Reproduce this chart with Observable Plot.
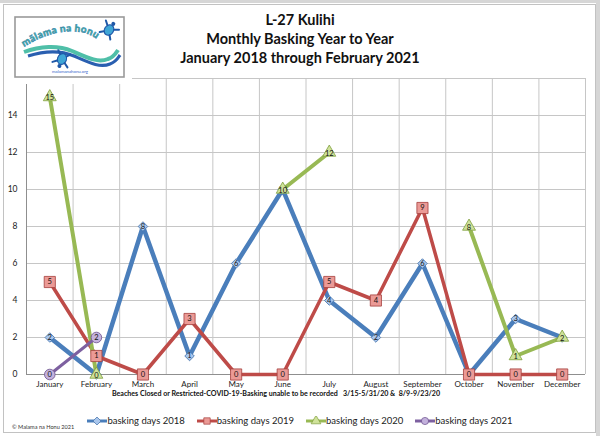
<!DOCTYPE html>
<html>
<head>
<meta charset="utf-8">
<script src="https://cdn.jsdelivr.net/npm/d3@7"></script>
<script src="https://cdn.jsdelivr.net/npm/@observablehq/plot@0.6"></script>
<style>
  html, body { margin: 0; padding: 0; background: #fff; }
  #wrap { position: relative; width: 600px; height: 436px; overflow: hidden; background: #fff; font-family: Lato, "Open Sans", sans-serif; }
  #topbar { position: absolute; left: 0; top: 0; width: 600px; height: 3px; background: #d6d6d6; }
  #rightbar { position: absolute; left: 596px; top: 0; width: 4px; height: 436px; background: #d6d6d6; }
  #frame { position: absolute; left: 3px; top: 4px; width: 593px; height: 429px; border: 1px solid #c2c2c2; box-sizing: border-box; background: #fff; }
  #chart { position: absolute; left: 0; top: 0; }
  #title { position: absolute; left: 0; top: 10px; width: 600px; text-align: center; font-weight: 700; font-size: 14.5px; line-height: 19px; color: #111; }
  #xtitle { position: absolute; left: 0; top: 389.5px; width: 552px; text-align: center; font-weight: 700; font-size: 7.1px; line-height: 8px; color: #111; white-space: pre; }
  #legend { position: absolute; left: 0; top: 414px; width: 600px; display: flex; justify-content: center; gap: 12px; font-size: 9.5px; line-height: 14px; color: #222; }
  .item { display: flex; align-items: center; }
  #copy { position: absolute; left: 12px; top: 423px; font-size: 5.6px; color: #333; }
  #logo { position: absolute; left: 10px; top: 13px; }
</style>
</head>
<body>
<div id="wrap">
  <div id="topbar"></div>
  <div id="rightbar"></div>
  <div id="frame"></div>
  <div id="chart"></div>
  <svg id="logo" width="122" height="71">
    <defs>
      <path id="arc" d="M14,34 C35,20 62,14 80,22 C90,27 96,34 100,44"/>
      <g id="turtle">
        <ellipse cx="0" cy="0" rx="4.5" ry="5.5" fill="#3fa6d6" stroke="#1f58a8" stroke-width="1.1"/>
        <circle cx="0" cy="-7.5" r="2" fill="#1f58a8"/>
        <path d="M-4,-3 L-8,-6 M4,-3 L8,-6 M-3.5,4 L-6.5,7 M3.5,4 L6.5,7" stroke="#1f58a8" stroke-width="2" stroke-linecap="round"/>
      </g>
    </defs>
    <rect x="0" y="0" width="122" height="71" fill="#fff"/>
    <rect x="5" y="4" width="109" height="60" fill="#fff" stroke="#9a9a9a" stroke-width="1.6"/>
    <path d="M14,39 C30,33 48,32 62,38 C78,45 88,50 98,46 C104,44 106,40 108,37" fill="none" stroke="#4fbfa8" stroke-width="4"/>
    <path d="M18,43 C34,38 50,37 64,43 C80,50 90,55 100,51 C106,49 108,45 110,42" fill="none" stroke="#2a5fb0" stroke-width="3.2"/>
    <text font-size="10" font-weight="900" fill="#43b49e" stroke="#2a6fb0" stroke-width="0.4" font-family="Lato" letter-spacing="0.3"><textPath href="#arc">mālama na honu</textPath></text>
    <use href="#turtle" transform="translate(99,17) rotate(35)"/>
    <use href="#turtle" transform="translate(52,46) rotate(200)"/>
    <text x="60" y="59.5" font-size="4.3" fill="#3366cc" text-anchor="middle" font-family="Lato">malamanahonu.org</text>
  </svg>
  <div id="title">L-27 Kulihi<br>Monthly Basking Year to Year<br>January 2018 through February 2021</div>
  <div id="xtitle">Beaches Closed or Restricted-COVID-19-Basking unable to be recorded   3/15-5/31/20 &amp;  8/9-9/23/20</div>
  <div id="legend"></div>
  <div id="copy">© Malama na Honu 2021</div>
</div>
<script>
// ---- data ----
const months = ["January","February","March","April","May","June","July","August","September","October","November","December"];
const seriesNames = ["basking days 2018","basking days 2019","basking days 2020","basking days 2021"];
const basking2018 = [2, 0, 8, 1, 6, 10, 4, 2, 6, 0, 3, 2];
const basking2019 = [5, 1, 0, 3, 0, 0, 5, 4, 9, 0, 0, 0];
const basking2020 = [15, 0, null, null, null, 10, 12, null, null, 8, 1, 2];
const basking2021 = [0, 2, null, null, null, null, null, null, null, null, null, null];
const yTicks = [0, 2, 4, 6, 8, 10, 12, 14];

// ---- styles ----
const styles = [
  {line: "#4a7ebb", fill: "#a9c6ec", stroke: "#3f6ea8", symbol: "diamond2", r: 4.3, width: 4.5},
  {line: "#be4b48", fill: "#eb9a96", stroke: "#a53f3c", symbol: "square", r: 6.3, width: 3.5},
  {line: "#98b954", fill: "#cfe29a", stroke: "#7f9e3e", symbol: "triangle", r: 4.8, width: 4},
  {line: "#7d60a0", fill: "#c3b1dc", stroke: "#6a4f8c", symbol: "circle", r: 5.3, width: 3}
];
const allSeries = [basking2018, basking2019, basking2020, basking2021];
const rows = allSeries.map((vals, s) => vals.map((v, i) => ({series: seriesNames[s], s, month: months[i], value: v})));

const X = d => months.indexOf(d.month);
const marks = [
  Plot.ruleY(d3.range(0, 17, 2), {stroke: "#c6c6c6", strokeWidth: 1}),
  Plot.ruleX(d3.range(-0.5, 12, 1), {stroke: "#c6c6c6", strokeWidth: 1}),
  Plot.ruleX([-0.5], {stroke: "#8f8f8f"}),
  Plot.ruleY([0], {stroke: "#8f8f8f"}),
  Plot.axisY(yTicks, {tickSize: 0, tickPadding: 9, fontSize: 8.5, fill: "#222", label: null}),
  Plot.axisX(d3.range(months.length), {tickSize: 0, tickPadding: 7, fontSize: 8, fill: "#222", label: null, tickFormat: i => months[i]})
];
rows.forEach((data, s) => {
  marks.push(Plot.line(data, {x: X, y: "value", stroke: styles[s].line, strokeWidth: styles[s].width, strokeLinejoin: "miter"}));
});
rows.forEach((data, s) => {
  const st = styles[s];
  const defined = data.filter(d => d.value != null);
  marks.push(Plot.dot(defined, {x: X, y: "value", symbol: st.symbol, r: st.r, fill: st.fill, stroke: st.stroke, strokeWidth: 0.8}));
  marks.push(Plot.text(defined, {x: X, y: "value", text: d => String(d.value), fontSize: 7.5, fill: "#111", dy: s === 2 ? 1 : 0}));
});

const chart = Plot.plot({
  width: 600, height: 436,
  marginLeft: 26, marginRight: 15, marginTop: 78, marginBottom: 62,
  style: {background: "transparent", fontFamily: "Lato, 'Open Sans', sans-serif", overflow: "visible"},
  x: {domain: [-0.5, 11.5], axis: null},
  y: {domain: [0, 16], axis: null},
  marks
});
document.getElementById("chart").appendChild(chart);

// ---- legend ----
const legend = document.getElementById("legend");
seriesNames.forEach((name, s) => {
  const st = styles[s];
  const item = document.createElement("div");
  item.className = "item";
  const sym = d3.create("svg").attr("width", 20).attr("height", 10);
  sym.append("line").attr("x1", 0).attr("x2", 20).attr("y1", 5).attr("y2", 5).attr("stroke", st.line).attr("stroke-width", 3);
  const shape = {diamond2: d3.symbolDiamond2, square: d3.symbolSquare, triangle: d3.symbolTriangle, circle: d3.symbolCircle}[st.symbol];
  sym.append("path").attr("transform", "translate(10,5)").attr("d", d3.symbol(shape, Math.PI * 3.6 * 3.6)())
    .attr("fill", st.fill).attr("stroke", st.stroke).attr("stroke-width", 0.7);
  item.appendChild(sym.node());
  const t = document.createElement("span");
  t.textContent = name;
  item.appendChild(t);
  legend.appendChild(item);
});
</script>
</body>
</html>
